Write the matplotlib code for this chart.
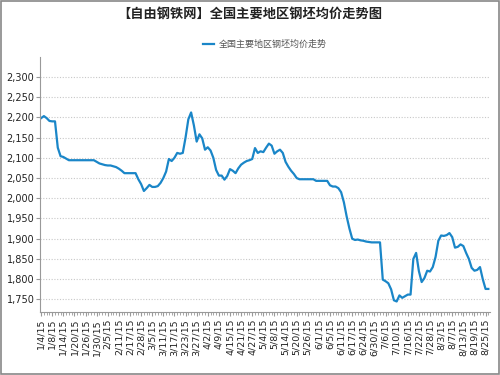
import matplotlib
matplotlib.use("Agg")
import matplotlib.pyplot as plt
from matplotlib.ticker import StrMethodFormatter
from matplotlib.patches import Rectangle

plt.rcParams['font.family'] = ['DejaVu Sans', 'Noto Sans CJK SC']

# 钢坯均价 (元/吨), one value per trading day
prices = [
    2198, 2203, 2198, 2191, 2190, 2190, 2125, 2104, 2102, 2098,
    2094, 2094, 2094, 2094, 2094, 2094, 2094, 2094, 2094, 2094,
    2090, 2086, 2084, 2082, 2081, 2081, 2079, 2077, 2073, 2068,
    2062, 2062, 2062, 2062, 2062, 2047, 2035, 2018, 2025, 2033,
    2028, 2028, 2030, 2038, 2050, 2066, 2097, 2092, 2100, 2112,
    2110, 2112, 2150, 2195, 2212, 2180, 2140, 2158, 2148, 2120,
    2126, 2118, 2100, 2070, 2056, 2056, 2046, 2055, 2072, 2068,
    2062, 2074, 2083, 2088, 2092, 2094, 2097, 2124, 2112, 2116,
    2114, 2125, 2135, 2130, 2110, 2116, 2120, 2112, 2090, 2078,
    2068, 2060, 2050, 2047, 2047, 2047, 2047, 2047, 2047, 2043,
    2043, 2043, 2043, 2043, 2032, 2029, 2029, 2025, 2015, 1990,
    1955, 1925, 1900, 1897, 1898, 1896, 1895, 1893, 1892, 1891,
    1891, 1891, 1891, 1799, 1795, 1790, 1775, 1748, 1745, 1760,
    1754, 1758, 1762, 1762, 1850, 1865, 1820, 1793, 1803, 1821,
    1819, 1830, 1855, 1895, 1908, 1907, 1909, 1914, 1904, 1878,
    1880, 1886, 1882, 1865, 1850, 1828, 1821, 1823, 1830, 1800,
    1776, 1776,
]

# every 4th trading day is labelled
tick_labels = [
    "1/4/15", "1/8/15", "1/14/15", "1/20/15", "1/26/15", "1/30/15",
    "2/5/15", "2/11/15", "2/17/15", "2/28/15", "3/5/15", "3/11/15",
    "3/17/15", "3/23/15", "3/27/15", "4/2/15", "4/9/15", "4/15/15",
    "4/21/15", "4/27/15", "5/4/15", "5/8/15", "5/14/15", "5/20/15",
    "5/26/15", "6/1/15", "6/5/15", "6/11/15", "6/17/15", "6/24/15",
    "6/30/15", "7/6/15", "7/10/15", "7/16/15", "7/22/15", "7/28/15",
    "8/3/15", "8/7/15", "8/13/15", "8/19/15", "8/25/15",
]

title = "【自由钢铁网】全国主要地区钢坯均价走势图"
series_name = "全国主要地区钢坯均价走势"

line_color = "#1a86c8"
axis_color = "#999999"

fig = plt.figure(figsize=(5, 3.75), dpi=100)
ax = fig.add_axes([0.08, 0.168, 0.90, 0.68])

x = list(range(len(prices)))
ax.plot(x, prices, color=line_color, lw=1.6, label=series_name)

ax.set_xlim(-0.4, len(prices) - 0.4)
ax.set_ylim(1719, 2349)

ax.yaxis.set_major_formatter(StrMethodFormatter("{x:,.0f}"))
ax.set_yticks(range(1750, 2301, 50))
ax.grid(axis="y", color="#c8c8c8", ls=(0, (1, 1.5)), lw=0.8)

ax.set_xticks(range(0, 4 * len(tick_labels), 4))
ax.set_xticklabels(tick_labels, rotation=90, fontsize=6.8, color="#222222")
ax.set_xticks(x, minor=True)
ax.tick_params(axis="x", which="major", length=3, color=axis_color, pad=2)
ax.tick_params(axis="x", which="minor", length=2, color=axis_color)
ax.tick_params(axis="y", length=3, color=axis_color, labelsize=7, labelcolor="#222222", pad=1)

for side in ("top", "right"):
    ax.spines[side].set_visible(False)
ax.spines["left"].set_color(axis_color)
ax.spines["bottom"].set_color(axis_color)

fig.text(0.5, 0.963, title, ha="center", va="center", fontsize=9.5,
         fontweight="bold", color="#222222")
ax.legend(loc="lower center", bbox_to_anchor=(0.5, 1.0), frameon=False,
          fontsize=6.5, handlelength=1.2, handletextpad=0.5, labelcolor="#555555")

fig.patches.append(Rectangle((0.002, 0.002), 0.996, 0.996, transform=fig.transFigure,
                             fill=False, edgecolor="#888888", lw=1.2))

fig.savefig("out.png", dpi=100)
